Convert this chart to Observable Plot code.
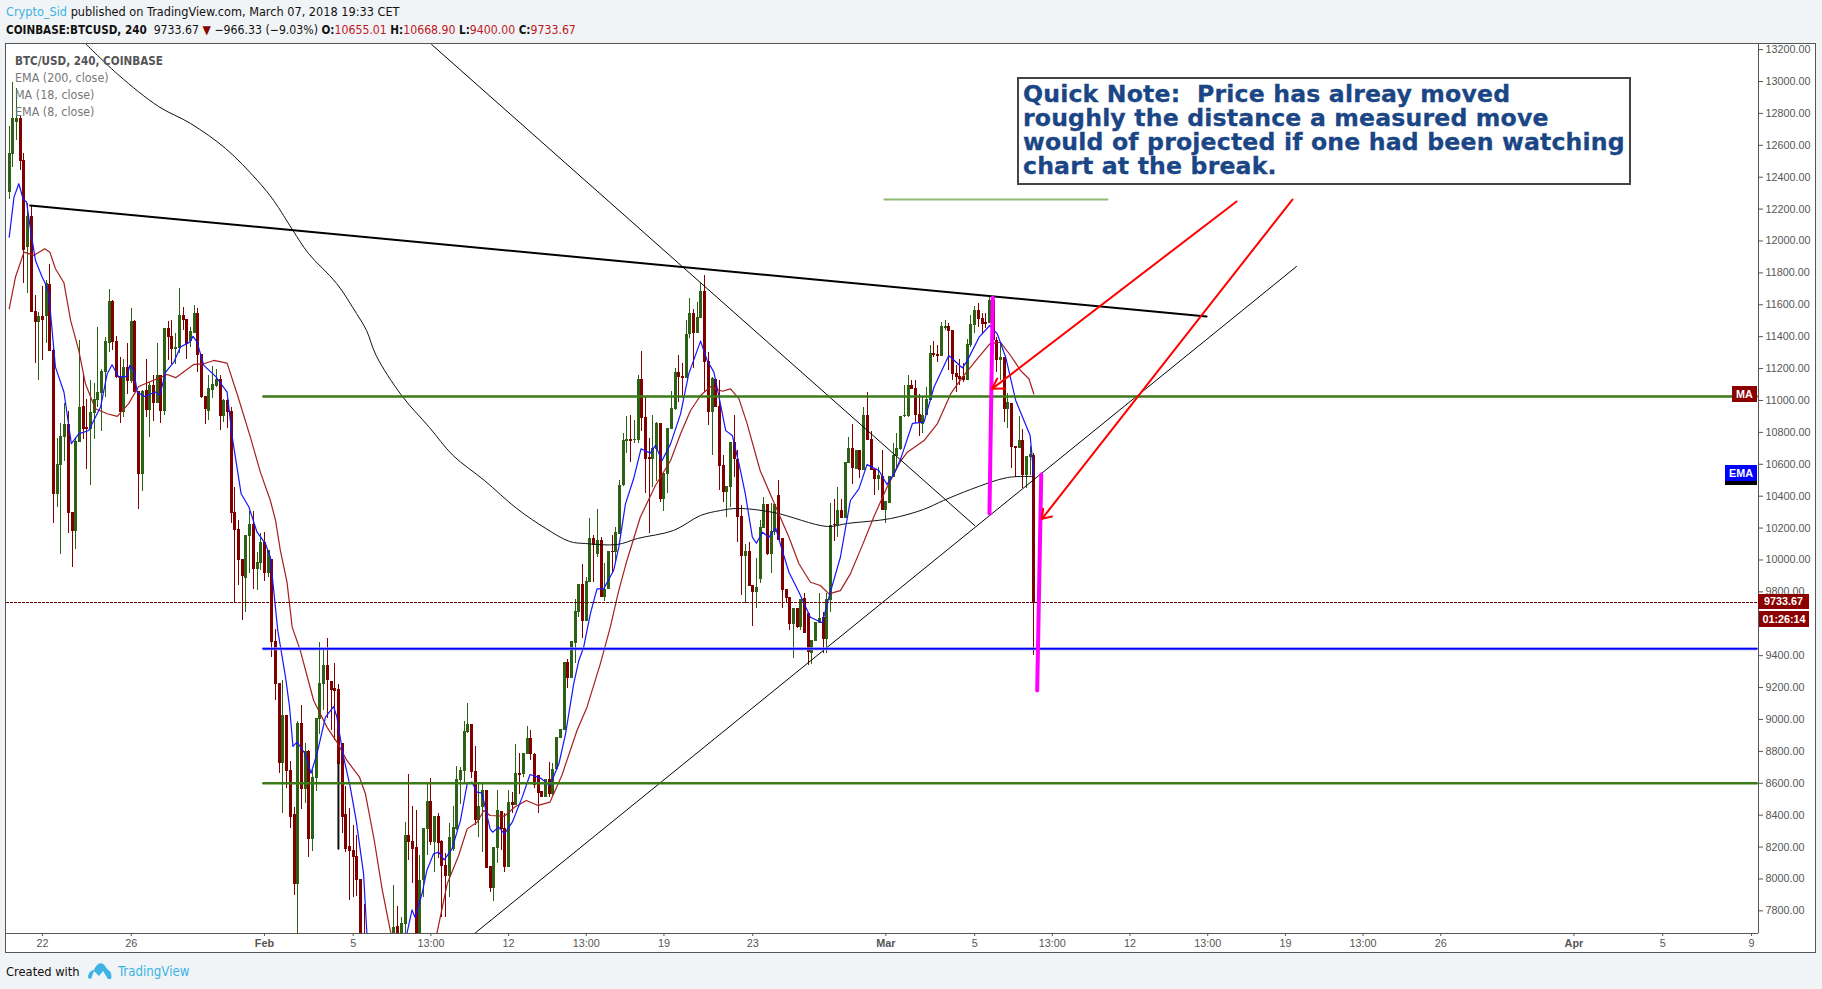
<!DOCTYPE html>
<html><head><meta charset="utf-8">
<script src="https://cdn.jsdelivr.net/npm/d3@7"></script>
<script src="https://cdn.jsdelivr.net/npm/@observablehq/plot@0.6"></script>
<style>
html,body{margin:0;padding:0;background:#f1f4f7;overflow:hidden;width:1822px;height:989px}
body{font-family:"DejaVu Sans Condensed","Noto Sans",sans-serif;color:#111;position:relative}
.h{position:absolute;left:6px;white-space:pre;font-size:12.6px;line-height:16px}
.blue{color:#3bb3e4}.red{color:#c0161c}.b{font-weight:bold}
#chart{position:absolute;left:5px;top:43px;width:1811px;height:910px;background:#fff;border:1px solid #555;box-sizing:border-box}
#chart svg{display:block;background:transparent}
.tag{position:absolute;color:#fff;font:bold 10.8px "Liberation Sans",Arial,sans-serif;text-align:center}
.leg{position:absolute;left:15px;font-size:12.4px;line-height:17px;color:#777;white-space:pre}
#note{position:absolute;left:1017px;top:77px;width:614px;height:108px;box-sizing:border-box;border:2px solid #444;background:#fff;color:#1b4686;font:bold 23.6px "DejaVu Sans",Verdana,sans-serif;line-height:24px;padding:3px 0 0 4px;white-space:pre;letter-spacing:0.16px;-webkit-text-stroke:0.3px #1b4686}
</style></head><body>
<div class="h" style="top:4px"><span class="blue">Crypto_Sid</span> published on TradingView.com, March 07, 2018 19:33 CET</div>
<div class="h" style="top:22px;font-size:12.2px"><span class="b" style="font-size:11.6px">COINBASE:BTCUSD, 240</span>  9733.67 <span style="color:#8b0000">▼</span> −966.33 (−9.03%) <span class="b" style="font-size:11.6px">O:</span><span class="red">10655.01</span> <span class="b" style="font-size:11.6px">H:</span><span class="red">10668.90</span> <span class="b" style="font-size:11.6px">L:</span><span class="red">9400.00</span> <span class="b" style="font-size:11.6px">C:</span><span class="red">9733.67</span></div>
<div id="chart"></div>
<div class="leg b" style="top:53px;color:#555;font-size:11.6px">BTC/USD, 240, COINBASE</div>
<div class="leg" style="top:69px">EMA (200, close)</div>
<div class="leg" style="top:86px">MA (18, close)</div>
<div class="leg" style="top:103px">EMA (8, close)</div>
<div id="note">Quick Note:  Price has alreay moved
roughly the distance a measured move
would of projected if one had been watching
chart at the break.</div>
<div class="tag" style="left:1732px;top:386px;width:25px;height:16px;line-height:16px;background:#8b0000">MA</div>
<div class="tag" style="left:1725px;top:465px;width:32px;height:16px;line-height:16px;background:#0000ff;border-bottom:4px solid #000">EMA</div>
<div class="tag" style="left:1758px;top:594px;width:51px;height:15px;line-height:15px;background:#8b0000">9733.67</div>
<div class="tag" style="left:1759px;top:611px;width:50px;height:16px;line-height:16px;background:#8b0000">01:26:14</div>
<div class="h" style="top:964px;font-size:12.8px">Created with</div>
<svg style="position:absolute;left:88px;top:962px" width="24" height="18" viewBox="0 0 24 18"><path d="M0 16 C0 10 4 8 6 8 C8 3 12 0 15 2 C17 3 18 6 20 8 C23 9 24 13 23 17 L20 17 L15 9 L11 14 L6 9 L3 17 Z" fill="#3bb3e4"/></svg>
<div class="h blue" style="top:964px;left:118px;font-size:13.2px">TradingView</div>
<script>
const opens=[12307,12547,12745,12766,12505,11962,12154,11558,11492,11527,
11527,11728,11314,10415,10593,10771,10850,10298,10181,10739,
10963,10829,10823,10921,11004,11046,11178,11360,11617,11368,
11147,10927,11205,11122,11496,11053,10540,11059,10942,11094,
10984,11157,10934,11450,11402,11322,11331,11533,11506,11372,
11423,11544,11287,11025,10934,11067,11090,11130,10900,10996,
10927,10296,10189,10001,9888,10148,10223,9940,9980,10108,
9917,10001,9485,9223,8726,9025,8680,8404,7965,8973,
8565,8795,8247,8634,9004,9223,9338,9234,9192,9186,
8847,8404,8199,8178,8141,7997,7400,7100,6900,6700,
6300,6600,6900,7100,7450,7702,7500,7719,8273,8231,
8195,7500,7990,8314,8486,8231,8392,8231,8084,8015,
8189,8314,8622,8676,8921,8969,8674,8371,8450,8555,
8078,7944,8195,8423,8314,8074,8479,8461,8659,8655,
8780,8879,8780,8649,8544,8513,8621,8530,8686,8885,
8935,9355,9259,9478,9673,9846,9616,9861,10133,10039,
10118,9767,9819,10051,10047,10164,10467,10745,10753,10749,
10749,11132,10889,10638,10632,10697,10854,10383,10540,10822,
10948,11173,11150,11142,11414,11543,11424,11518,11683,11240,
10927,11132,10962,10592,10425,10456,10734,10630,10272,10024,
10053,9840,9798,9881,10201,10348,10034,10174,10404,10132,
9812,9762,9595,9693,9579,9756,9662,9415,9490,9603,
9637,9505,9750,10222,10216,10310,10264,10607,10696,10571,
10686,10561,10906,10753,10565,10504,10519,10310,10356,10519,
10651,10696,10899,10899,11092,11073,10910,10853,10905,11004,
11292,11288,11278,11455,11464,11438,11167,11146,11146,11125,
11344,11470,11564,11512,11484,11484,11622,11376,11255,11267,
10943,10979,10711,10701,10749,10529,10644,10655];
const closes=[12547,12766,12766,12501,11941,12154,11554,11492,11527,11502,
11732,11310,10415,10599,10775,10850,10294,10181,10739,10954,
10823,10817,10921,11004,11051,11178,11366,11617,11366,11147,
10927,11205,11122,11496,11053,10540,11053,10942,11094,10984,
11157,10934,11450,11397,11324,11331,11533,11502,11352,11429,
11544,11283,11021,10948,11074,11101,11130,10900,10996,10927,
10294,10185,10001,9897,10154,10223,9943,9982,10108,9917,
10059,9485,9223,8726,9025,8676,8388,7965,8973,8565,
8795,8247,8634,9004,9223,9338,9244,9186,9177,8722,
8388,8185,8174,8137,7990,7400,7100,6900,6700,6300,
6600,6900,7100,7400,7694,7500,7719,8273,8231,8189,
7500,7990,8314,8486,8231,8392,8225,8078,8015,8258,
8321,8622,8680,8925,8969,8670,8371,8454,8551,8070,
7942,8195,8425,8314,8074,8479,8461,8659,8649,8785,
8879,8780,8586,8538,8513,8621,8530,8686,8885,8935,
9355,9259,9485,9677,9846,9616,9861,10133,10091,10122,
9767,9813,10051,10047,10170,10467,10749,10753,10745,10753,
11132,10889,10632,10632,10697,10854,10383,10540,10822,10948,
11173,11146,11142,11414,11543,11424,11518,11683,11240,10927,
11136,10958,10588,10425,10460,10734,10630,10268,10024,10053,
9835,9798,9825,10201,10348,10034,10174,10348,10122,9808,
9762,9595,9693,9579,9750,9541,9422,9490,9603,9631,
9505,9750,10216,10216,10310,10264,10611,10696,10577,10686,
10565,10906,10749,10561,10504,10529,10310,10362,10519,10651,
10696,10899,10905,11092,11073,10905,10857,10905,11004,11292,
11284,11278,11459,11464,11434,11163,11146,11131,11129,11351,
11474,11564,11507,11480,11480,11622,11376,11255,11267,10947,
10983,10707,10701,10749,10529,10648,10659,9733.67];
const highs=[12718,12996,12955,12780,12547,12233,12223,11659,11554,11715,
11753,11853,11352,10760,10854,10980,10934,10298,10771,11377,
11168,11004,11126,11105,11460,11193,11393,11696,11627,11402,
11272,11255,11356,11575,11502,11053,11063,11257,11115,11157,
11356,11157,11450,11496,11502,11418,11700,11581,11506,11456,
11596,11575,11287,11025,11157,11214,11193,11157,11004,11004,
10954,10453,10248,10001,10154,10306,10306,10049,10164,10170,
10059,10001,9562,9223,9244,9025,8736,8446,8990,9088,
8847,8806,8680,9004,9481,9443,9506,9234,9353,9219,
8847,8580,8440,8335,8273,7997,7840,7300,7050,6900,
6700,7000,7300,7500,7959,7827,7760,8356,8655,8454,
8429,8147,8314,8596,8628,8392,8408,8241,8158,8346,
8454,8705,8701,8987,9098,8969,8831,8601,8601,8555,
8078,8195,8555,8423,8408,8555,8544,8843,8785,8785,
8956,8931,8785,8649,8544,8621,8732,8722,8885,8935,
9355,9376,9485,9750,9846,9972,9892,10258,10153,10314,
10143,9980,10051,10153,10206,10498,10791,10902,10906,10875,
11157,11307,11021,10760,10906,10864,10854,10540,10822,11058,
11198,11282,11230,11501,11642,11568,11616,11731,11784,11303,
11142,11132,11125,10655,10460,10734,10906,10686,10341,10095,
10107,9840,10007,10247,10393,10348,10352,10348,10498,10132,
9812,9762,9693,9693,9750,9787,9662,9490,9603,9787,
9672,9787,10356,10377,10452,10379,10611,10770,10849,10686,
10686,10954,11048,10807,10565,10582,10686,10362,10519,10728,
10791,10899,11094,11156,11125,11125,11035,11020,11083,11344,
11372,11344,11491,11501,11480,11438,11219,11257,11229,11380,
11533,11589,11606,11543,11543,11652,11647,11397,11355,11267,
11041,10979,10711,10899,10816,10648,10711,10668.9];
const lows=[12261,12463,12630,12442,11732,11673,11554,11234,11126,11251,
11360,11310,10231,10332,10035,10620,10169,9955,10066,10739,
10754,10568,10467,10756,10959,10806,11021,11303,11314,11136,
10858,10896,11038,11105,11053,10315,10432,10896,10771,10869,
10984,10858,10906,11251,11226,11226,11293,11439,11257,11335,
11418,11178,11011,10850,10875,11011,11084,10812,10865,10823,
10227,9725,9840,9621,9673,9918,9813,9809,9934,9867,
9892,9391,9119,8663,8413,8565,8314,7896,7660,8433,
8475,8137,8174,8551,8906,9056,9004,8931,8868,8722,
8283,8164,7865,7886,7890,7300,7000,6800,6500,6000,
6000,6500,6700,7000,7350,7400,7400,7640,8116,7969,
7400,7400,7886,8147,8210,8043,8126,7760,7760,7886,
8174,8304,8467,8607,8910,8628,8335,8262,8168,8063,
7917,7861,8095,8179,8043,8074,8408,8461,8530,8634,
8780,8743,8565,8408,8513,8513,8513,8523,8680,8880,
8930,9192,9255,9353,9641,9510,9616,9861,9861,10013,
9767,9742,9813,9924,9976,10164,10461,10665,10613,10732,
10728,10806,10419,10168,10456,10494,10362,10306,10415,10816,
10937,10989,11010,11136,11387,11198,11418,11518,11052,10843,
10655,10954,10436,10362,10264,10331,10519,10111,9777,9725,
9835,9585,9693,9850,10201,10028,9913,10153,10122,9693,
9735,9557,9384,9568,9557,9541,9338,9344,9490,9599,
9415,9415,9672,10118,10143,10264,10264,10602,10473,10565,
10508,10561,10749,10561,10404,10435,10310,10226,10352,10515,
10561,10686,10895,10895,11073,10853,10774,10791,10905,11000,
11271,11240,11275,11438,11188,11125,11052,11094,11115,11125,
11334,11418,11459,11418,11449,11484,11334,11177,11125,10864,
10822,10571,10519,10701,10446,10446,10529,9400];

// moving averages: [candle number, price]
const ema200Points=[[20.6,13238],[29.7,13038],[40.4,12843],[49,12737],[58.5,12580],[67.1,12379],[71.5,12254],[76.7,12066],[80.9,11922],[88.5,11734],[93.9,11545],[96.6,11439],[99.2,11282],[106.1,11031],[113.6,10831],[120,10655],[128.5,10498],[137.2,10323],[145.1,10197],[151.5,10116],[155.8,10103],[164.4,10097],[169.9,10135],[179.6,10185],[186.9,10279],[192.3,10310],[196.9,10323],[206.6,10298],[221.2,10210],[226.6,10229],[238.3,10260],[247.2,10317],[252.6,10373],[259.9,10442],[269.9,10517],[277,10523]];
const ma18Points=[[0,11575],[1.7,11774],[4,11930],[6.7,11910],[9.6,11951],[11,11930],[12.5,11826],[14.8,11738],[16.6,11502],[18.8,11314],[20.6,11105],[23.3,10948],[26.5,10917],[29.2,10900],[32.3,10980],[35,11088],[40,11136],[42.7,11163],[45,11143],[49.9,11226],[52.6,11230],[55.3,11251],[58.9,11234],[61.6,11042],[65.2,10770],[67.9,10551],[70.6,10373],[72,10248],[73.3,10060],[75.1,9861],[76.5,9579],[78.7,9432],[82.3,9119],[85.9,8952],[88.6,8858],[91.3,8743],[94.7,8638],[96.3,8534],[98.7,8241],[100.8,7938],[103.2,7656],[107,7200],[112,7300],[115.6,7656],[118.4,7969],[121.5,8147],[123.8,8314],[126.5,8356],[128.3,8429],[130,8398],[133.9,8394],[136.6,8450],[139.8,8492],[143,8461],[146.2,8482],[149.4,8649],[153.5,8931],[156.2,9077],[159.8,9349],[162.5,9579],[164.8,9809],[167,9997],[170.6,10268],[174.7,10467],[178.8,10624],[181.5,10791],[184.2,10937],[186.9,11031],[189.6,11087],[192.8,11058],[195,11073],[197.3,11010],[199.5,10853],[203,10561],[206.7,10362],[210.8,10143],[213.5,9976],[216.6,9860],[219.3,9840],[221.6,9787],[224.7,9808],[227.4,9913],[230.6,10090],[233.7,10268],[237.3,10456],[241,10620],[242.8,10676],[247.3,10749],[250.9,10853],[254.5,11041],[257.7,11146],[261.7,11261],[265.1,11355],[268,11365],[270.7,11282],[273.4,11188],[275.7,11135],[277,11041]];
const ema8Points=[[0,12024],[1.3,12275],[2.6,12359],[3.8,12261],[4.7,12244],[5.8,12066],[7.1,11878],[8.9,11774],[9.8,11732],[10.7,11669],[12.5,11209],[14.8,11053],[16.8,10729],[18.8,10791],[21.5,10812],[24.7,10959],[26.5,11168],[27.8,11224],[29.6,11147],[31.9,11151],[32.6,11220],[33.7,11188],[34.6,11053],[36.6,11025],[39.5,11053],[40.7,11032],[42.3,11178],[44.5,11240],[46.3,11335],[48.8,11366],[49.7,11402],[50.8,11366],[52.6,11220],[55.8,11151],[58.9,11053],[60.3,10770],[62.7,10415],[64.8,10332],[67,10174],[69.3,10101],[70.6,10018],[72.6,9558],[74.7,9265],[75.8,9077],[76.7,8831],[77.8,8858],[80,8785],[81.6,8663],[83.2,8785],[85.5,9014],[87.7,9081],[88.6,9014],[90.2,8785],[92.2,8576],[93.8,8367],[95.8,8032],[96.7,7656],[100,6900],[104,7200],[107.5,7656],[108.9,7806],[109.7,7760],[111.6,7907],[112.9,8053],[114.7,8157],[116.1,8168],[117.6,8120],[119.7,8189],[122,8367],[123.8,8596],[125.1,8607],[126.5,8544],[127.8,8538],[130,8314],[130.7,8293],[132.3,8325],[133.9,8283],[136,8356],[138.7,8513],[140.8,8655],[143.5,8634],[146.2,8586],[148.6,8722],[150.4,8910],[152.6,9223],[154,9370],[155.3,9453],[157.1,9662],[158.9,9819],[160.7,9819],[163.4,9934],[164.8,10080],[166.6,10352],[168.8,10509],[170.8,10697],[173.3,10670],[174.7,10718],[176.5,10624],[178.8,10728],[181.5,10916],[183.7,11167],[186.9,11372],[188.7,11251],[190.5,11178],[191.9,11021],[193.7,10811],[195.5,10780],[197.3,10602],[199,10414],[200.9,10143],[202,10105],[203.6,10174],[205.4,10143],[207.2,10201],[209,10059],[210.8,9923],[213.5,9798],[216.6,9641],[219.8,9606],[221.6,9767],[224.7,10017],[227.4,10373],[229.7,10446],[231.9,10598],[235.1,10561],[237.3,10473],[239.2,10540],[241,10634],[244.2,10857],[247.3,10864],[250,11083],[254,11282],[257.7,11204],[259,11250],[262.2,11397],[265.1,11470],[267.1,11418],[269.4,11271],[272.1,11000],[276,10780],[277,10529]];

// drawings on the chart: [candle number, price] pairs
const resistanceLine=[[5.65,12223],[323.7,11527]];
const fallingLine=[[114.2,13232],[261,10216]];
const risingLine=[[125.8,7658],[348,11840]];
const levelStart=68.7, levelEnd=472.4;
const greenLevels=[11025,8600];
const blueLevel=9443;
const topLevel=[[236.6,12260],[296.9,12260]];
const lastPrice=9733.67;
const pinkPoles=[[[265.9,11644],[265,10291]],[[279,10536],[277.9,9182]]];
const redArrows=[
 [[331.8,12248],[265.7,11073]],[[267.1,11138],[265.7,11073],[269.3,11075]],
 [[346.9,12260],[279.2,10258]],[[279.5,10321],[279.2,10258],[281.9,10273]]];
const blackStub=[[89,8722],[89,8189]];

const priceTicks=d3.range(7800,13201,200);
const normalTickDates=["2018-01-22","2018-01-26","2018-02-05","2018-02-08T12:00Z","2018-02-12","2018-02-15T12:00Z","2018-02-19","2018-02-23","2018-03-05","2018-03-08T12:00Z","2018-03-12","2018-03-15T12:00Z","2018-03-19","2018-03-22T12:00Z","2018-03-26","2018-04-05","2018-04-09"];
const normalTickLabels=["22","26","5","13:00","12","13:00","19","23","5","13:00","12","13:00","19","13:00","26","5","9"];
const monthTickDates=["2018-02-01","2018-03-01","2018-04-01"];
const monthTickLabels=["Feb","Mar","Apr"];

const startMs=Date.UTC(2018,0,20,12);
const toDate=i=>new Date(startMs+i*4*3600e3);
const upColor="#2d6114", downColor="#800000";
const candles=opens.map((o,i)=>({t:toDate(i),o,c:closes[i],h:highs[i],l:lows[i],col:closes[i]>=o?upColor:downColor}));
const pts=a=>a.map(([i,p])=>({t:toDate(i),p}));
const polyline=(a,opt)=>Plot.line(pts(a),{x:"t",y:"p",clip:true,...opt});
const nd=normalTickDates.map(d=>new Date(d)), md=monthTickDates.map(d=>new Date(d));
const fmt=(dates,labels)=>d=>labels[dates.findIndex(x=>+x===+d)];

const chart=Plot.plot({
 width:1809,height:908,marginLeft:0,marginRight:57,marginTop:0,marginBottom:19,
 style:{background:"transparent",fontFamily:"'Liberation Sans',Arial,sans-serif",overflow:"visible"},
 x:{type:"utc",domain:[toDate(-0.73),toDate(472.9)],label:null},
 y:{type:"linear",domain:[7658,13232],label:null},
 marks:[
  Plot.ruleX(candles,{x:"t",y1:"l",y2:"h",stroke:"col",strokeWidth:1,clip:true,shapeRendering:"crispEdges"}),
  Plot.ruleX(candles,{x:"t",y1:d=>Math.min(d.o,d.c)-2,y2:d=>Math.max(d.o,d.c)+2,stroke:"col",strokeWidth:3,strokeLinecap:"butt",clip:true,shapeRendering:"crispEdges"}),
  polyline(blackStub,{stroke:"#111",strokeWidth:2}),
  polyline(ema200Points,{stroke:"#111",strokeWidth:1,curve:"catmull-rom"}),
  polyline(ma18Points,{stroke:"#a51e1e",strokeWidth:1.2}),
  polyline(ema8Points,{stroke:"#1414ff",strokeWidth:1.2}),
  polyline(resistanceLine,{stroke:"#000",strokeWidth:2}),
  polyline(fallingLine,{stroke:"#000",strokeWidth:1}),
  polyline(risingLine,{stroke:"#000",strokeWidth:1}),
  ...greenLevels.map(v=>polyline([[levelStart,v],[levelEnd,v]],{stroke:"#3b7a17",strokeWidth:2.4})),
  polyline([[levelStart,blueLevel],[levelEnd,blueLevel]],{stroke:"#8a8aff",strokeWidth:3}),
  polyline([[levelStart,blueLevel],[levelEnd,blueLevel]],{stroke:"#0000ff",strokeWidth:1.6}),
  polyline(topLevel,{stroke:"#8fbc73",strokeWidth:2}),
  polyline([[-0.73,lastPrice],[472.9,lastPrice]],{stroke:"#6a0000",strokeWidth:1,strokeDasharray:"2,2",shapeRendering:"crispEdges"}),
  ...pinkPoles.map(p=>polyline(p,{stroke:"#ff00ff",strokeWidth:4})),
  ...redArrows.map(a=>polyline(a,{stroke:"#ff0000",strokeWidth:2})),
  Plot.axisY({anchor:"right",ticks:priceTicks,tickFormat:d=>d3.format(".2f")(d),tickSize:4,tickPadding:3,fontSize:10.8,color:"#555",stroke:"#555",label:null}),
  Plot.axisX({anchor:"bottom",ticks:nd,tickFormat:fmt(nd,normalTickLabels),tickSize:3,tickPadding:3,fontSize:10.8,color:"#555",stroke:"#555",label:null}),
  Plot.axisX({anchor:"bottom",ticks:md,tickFormat:fmt(md,monthTickLabels),tickSize:3,tickPadding:3,fontSize:10.8,fontWeight:"bold",color:"#555",stroke:"#555",label:null}),
  Plot.ruleY([7658],{stroke:"#555",strokeWidth:1}),
  Plot.ruleX([toDate(472.9)],{stroke:"#555",strokeWidth:1})
 ]
});
document.getElementById("chart").append(chart);
</script>
</body></html>
